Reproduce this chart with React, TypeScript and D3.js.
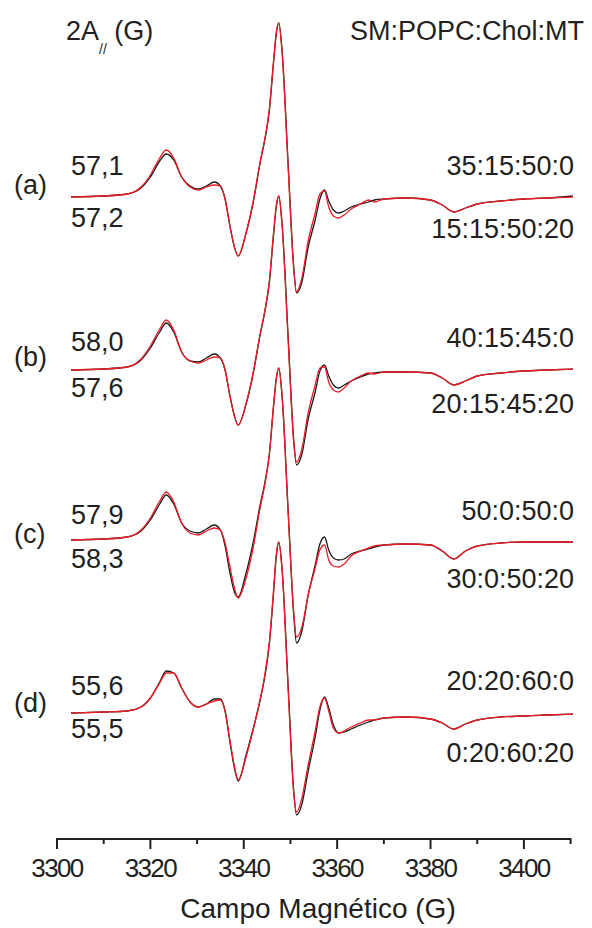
import React from "react";
import * as d3 from "d3";

// Magnetic field sample positions (G)
const FIELD = [3303, 3310, 3315, 3318, 3320, 3322, 3323.4, 3325, 3326.7, 3328.5, 3330.3, 3332, 3333.7, 3335, 3336, 3337, 3338, 3338.8, 3340.5, 3342, 3343.5, 3344.5, 3345.5, 3346.3, 3347, 3347.5, 3348.2, 3349.5, 3350.7, 3351.3, 3352.4, 3353.8, 3355.3, 3356.3, 3357.3, 3358.2, 3359.2, 3360.3, 3361.5, 3363, 3365, 3366.7, 3368, 3370, 3375, 3380, 3382.5, 3385, 3387.5, 3390, 3395, 3400, 3405, 3410.5];

// EPR signal (arbitrary units) — black: without MT, red: with MT
const A_BLACK = [0, 1, 3, 9, 20, 36, 43, 37, 20, 11, 8, 11, 15, 11, -2, -28, -50, -59, -36, -6, 34, 57, 87, 130, 164, 174, 147, 34, -70, -96, -86, -50, -23, -2, 7, -4, -13, -16, -14, -10, -7, -5, -3, -2, -1, -3, -8, -15, -11, -7, -4, -2, -1, 1];
const A_RED = [0, 1, 3, 10, 22, 39, 47, 39, 20, 10, 7, 10, 12, 11, -2, -28, -50, -59, -36, -5, 35, 58, 89, 132, 166, 174, 145, 30, -72, -95, -82, -44, -16, 3, 6, -10, -19, -21, -18, -12, -7, -3, -5, -2, -1, -3, -8, -15, -11, -7, -4, -2, -1, 0];
const B_BLACK = [0, 1, 3, 10, 22, 38, 47, 38, 18, 9, 8, 12, 16, 12, 0, -25, -46, -55, -34, -4, 35, 58, 88, 131, 164, 174, 147, 34, -70, -95, -85, -49, -22, -1, 5, -6, -15, -18, -15, -11, -7, -4, -3, -2, -2, -3, -8, -15, -11, -6, -3, -1, 0, 1];
const B_RED = [0, 1, 3, 11, 24, 41, 50, 40, 18, 9, 7, 10, 13, 12, 0, -25, -46, -55, -34, -3, 36, 59, 90, 133, 166, 174, 145, 30, -72, -92, -80, -43, -15, 2, 3, -12, -20, -22, -18, -11, -6, -3, -4, -2, -2, -3, -8, -15, -11, -6, -3, -1, 0, 1];
const C_BLACK = [0, 1, 3, 9, 20, 36, 45, 36, 17, 9, 7, 11, 15, 10, -6, -32, -52, -57, -33, -3, 35, 57, 87, 130, 162, 172, 145, 30, -75, -103, -92, -55, -25, -4, 3, -10, -18, -20, -19, -14, -11, -9, -7, -5, -4, -5, -11, -19, -11, -6, -3, -2, -2, -2];
const C_RED = [0, 1, 3, 10, 22, 39, 48, 38, 17, 7, 5, 9, 12, 10, -3, -26, -48, -58, -38, -8, 32, 55, 86, 130, 163, 172, 144, 28, -72, -97, -88, -55, -28, -10, -5, -20, -26, -27, -24, -16, -11, -8, -6, -5, -4, -5, -11, -19, -11, -6, -3, -2, -2, -2];
const D_BLACK = [0, 1, 2, 6, 15, 31, 42, 40, 25, 11, 6, 9, 14, 14, 2, -28, -55, -68, -42, -16, 13, 36, 70, 115, 158, 171, 145, 28, -78, -102, -92, -58, -24, 3, 16, 5, -12, -20, -19, -16, -12, -9, -7, -5, -4, -6, -10, -16, -11, -7, -4, -3, -2, -1];
const D_RED = [0, 1, 2, 6, 15, 30, 40, 40, 25, 11, 6, 9, 12, 13, 2, -26, -53, -67, -44, -17, 13, 38, 72, 118, 160, 171, 143, 24, -80, -99, -86, -52, -18, 6, 15, 2, -15, -20, -18, -14, -10, -7, -7, -5, -4, -6, -10, -16, -11, -7, -4, -3, -2, -1];

const SERIES_BLACK = [A_BLACK, B_BLACK, C_BLACK, D_BLACK];
const SERIES_RED = [A_RED, B_RED, C_RED, D_RED];
const OFFSETS = [0, -173, -343, -516];

const GROUP_IDS = ["(a)", "(b)", "(c)", "(d)"];
const A_PAR_BLACK = ["57,1", "58,0", "57,9", "55,6"];
const A_PAR_RED = ["57,2", "57,6", "58,3", "55,5"];
const COMP_BLACK = ["35:15:50:0", "40:15:45:0", "50:0:50:0", "20:20:60:0"];
const COMP_RED = ["15:15:50:20", "20:15:45:20", "30:0:50:20", "0:20:60:20"];

const MAJOR_TICKS = [3300, 3320, 3340, 3360, 3380, 3400];
const MINOR_TICKS = [3310, 3330, 3350, 3370, 3390, 3410];

// label baselines (px)
const ID_Y = [194, 366, 543, 712];
const PB_Y = [175, 351, 524, 695];
const PR_Y = [227, 397, 568, 738];
const CB_Y = [175, 347, 520, 690];
const CR_Y = [238, 413, 588, 762];

const FONT = "'Liberation Sans', Arial, Helvetica, sans-serif";
const INK = "#231f20";

export default function App() {
  const W = 592;
  const H = 928;
  const x = d3.scaleLinear().domain([3300, 3410]).range([57, 570.6]);
  const y = d3.scaleLinear().domain([-643, 197]).range([840, 0]);
  const axisY = 839;

  const line = (vals: number[], off: number) =>
    d3
      .line<number>()
      .x((_, i) => x(FIELD[i]))
      .y((v) => y(v + off))
      .curve(d3.curveMonotoneX)(vals) || "";

  return (
    <svg
      width={W}
      height={H}
      viewBox={`0 0 ${W} ${H}`}
      style={{ position: "absolute", left: 0, top: 0, background: "#fff" }}
      fontFamily={FONT}
    >
      <rect width={W} height={H} fill="#fff" />
      {SERIES_BLACK.map((s, i) => (
        <path key={"b" + i} d={line(s, OFFSETS[i])} fill="none" stroke="#1a1a1a" strokeWidth={1.3} strokeLinejoin="round" />
      ))}
      {SERIES_RED.map((s, i) => (
        <path key={"r" + i} d={line(s, OFFSETS[i])} fill="none" stroke="#ed1c24" strokeWidth={1.3} strokeLinejoin="round" />
      ))}

      {GROUP_IDS.map((g, i) => (
        <g key={"lab" + i} fill={INK} fontSize={27}>
          <text x={14} y={ID_Y[i]}>{g}</text>
          <text x={71} y={PB_Y[i]}>{A_PAR_BLACK[i]}</text>
          <text x={71} y={PR_Y[i]}>{A_PAR_RED[i]}</text>
          <text x={574} y={CB_Y[i]} textAnchor="end">{COMP_BLACK[i]}</text>
          <text x={574} y={CR_Y[i]} textAnchor="end">{COMP_RED[i]}</text>
        </g>
      ))}

      <text x={66} y={40} fill={INK} fontSize={27}>
        2A<tspan fontSize={14} dy={14}>//</tspan>
        <tspan dy={-14}> (G)</tspan>
      </text>
      <text x={584} y={40} fill={INK} fontSize={27} textAnchor="end">
        SM:POPC:Chol:MT
      </text>

      {/* x axis */}
      <line x1={x(3300)} x2={x(3410)} y1={axisY} y2={axisY} stroke={INK} strokeWidth={2} />
      {MAJOR_TICKS.map((t) => (
        <g key={"M" + t}>
          <line x1={x(t)} x2={x(t)} y1={axisY - 1} y2={axisY + 10} stroke={INK} strokeWidth={2} />
          <text x={x(t)} y={877} textAnchor="middle" fill={INK} fontSize={26} letterSpacing={-1.6}>
            {t}
          </text>
        </g>
      ))}
      {MINOR_TICKS.map((t) => (
        <line key={"m" + t} x1={x(t)} x2={x(t)} y1={axisY - 1} y2={axisY + 5} stroke={INK} strokeWidth={2} />
      ))}
      <text x={318} y={918} textAnchor="middle" fill={INK} fontSize={28}>
        Campo Magnético (G)
      </text>
    </svg>
  );
}
